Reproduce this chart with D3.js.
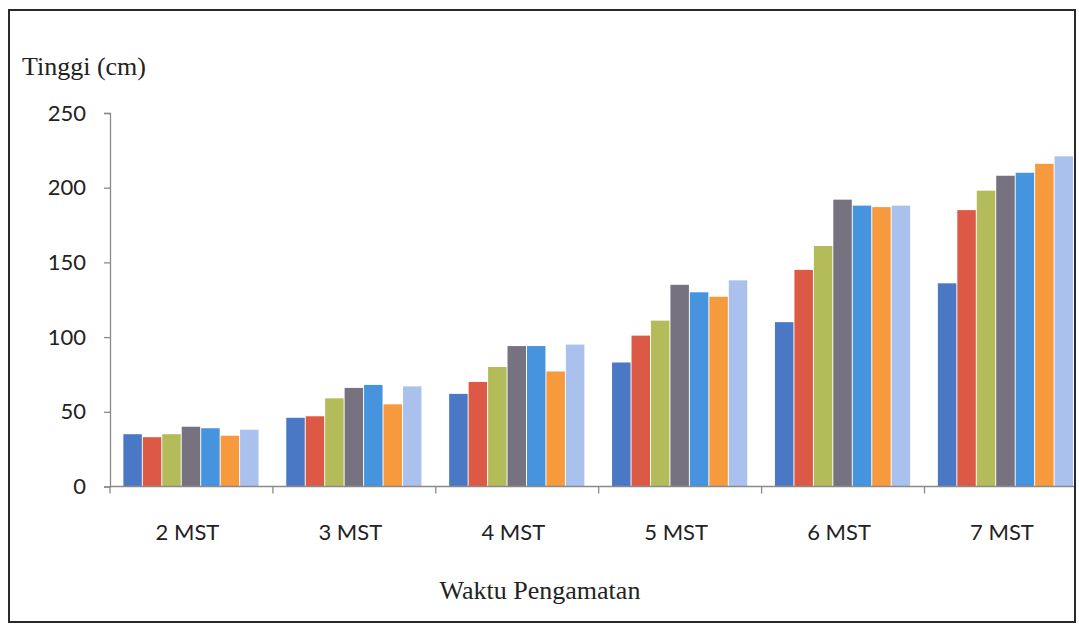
<!DOCTYPE html>
<html>
<head>
<meta charset="utf-8">
<script src="https://cdn.jsdelivr.net/npm/d3@7"></script>
<style>
  html, body { margin: 0; padding: 0; background: #fff; }
  svg { display: block; }
</style>
</head>
<body>
<svg id="chart" width="1079" height="625"></svg>
<script>
// Plant height (cm) per observation week, seven treatments each
const categories = ["2 MST", "3 MST", "4 MST", "5 MST", "6 MST", "7 MST"];
const seriesNames = ["P1", "P2", "P3", "P4", "P5", "P6", "P7"];
const s1 = [35, 46, 62, 83, 110, 136];
const s2 = [33, 47, 70, 101, 145, 185];
const s3 = [35, 59, 80, 111, 161, 198];
const s4 = [40, 66, 94, 135, 192, 208];
const s5 = [39, 68, 94, 130, 188, 210];
const s6 = [34, 55, 77, 127, 187, 216];
const s7 = [38, 67, 95, 138, 188, 221];
const seriesValues = [s1, s2, s3, s4, s5, s6, s7];
const colors = ["#4b78c5", "#dc5a45", "#b3bc58", "#77727f", "#4794de", "#f79a3e", "#a9c1ec"];
const yTicks = [0, 50, 100, 150, 200, 250];

const svg = d3.select("#chart");

// frame around the whole figure
const frame = { x: 9, y: 10, w: 1066, h: 612 };
svg.append("clipPath").attr("id", "frameClip")
  .append("rect").attr("x", frame.x).attr("y", frame.y)
  .attr("width", frame.w).attr("height", frame.h);

const plot = svg.append("g").attr("clip-path", "url(#frameClip)");

const x0 = d3.scaleBand().domain(categories).range([110, 110 + 6 * 162.9]).padding(0);
const bw = x0.bandwidth();
const x1 = d3.scaleBand().domain(seriesNames).range([bw * 0.082, bw * 0.912]).paddingInner(0.05);
const y = d3.scaleLinear().domain([0, 250]).range([486.5, 113]);

// bars
const groups = plot.selectAll("g.grp").data(categories).enter().append("g")
  .attr("class", "grp")
  .attr("transform", d => `translate(${x0(d)},0)`);

groups.selectAll("rect").data((c, ci) => seriesNames.map((s, si) => ({ s, si, v: seriesValues[si][ci] })))
  .enter().append("rect")
  .attr("x", d => x1(d.s))
  .attr("width", x1.bandwidth())
  .attr("y", d => y(d.v))
  .attr("height", d => y(0) - y(d.v))
  .attr("fill", d => colors[d.si]);

// y axis
const yAxis = plot.append("g").attr("transform", "translate(110,0)")
  .call(d3.axisLeft(y).tickValues(yTicks).tickSize(6).tickPadding(18));
yAxis.select(".domain").attr("stroke", "#8a8a8a").attr("stroke-width", 1.3);
yAxis.selectAll(".tick line").attr("stroke", "#8a8a8a").attr("stroke-width", 1.3);
yAxis.selectAll(".tick text")
  .attr("font-family", "Lato, 'Open Sans', sans-serif")
  .attr("font-size", 22).attr("fill", "#222");

// x axis: baseline with tick marks at category boundaries
const xAxis = plot.append("g").attr("transform", `translate(0,${y(0)})`);
xAxis.append("line").attr("x1", 110).attr("x2", 1090).attr("y1", 0).attr("y2", 0)
  .attr("stroke", "#8a8a8a").attr("stroke-width", 1.3);
const boundaries = categories.map(c => x0(c));
xAxis.selectAll("line.tk").data(boundaries).enter().append("line")
  .attr("class", "tk")
  .attr("x1", d => d).attr("x2", d => d).attr("y1", 0).attr("y2", 7)
  .attr("stroke", "#8a8a8a").attr("stroke-width", 1.3);
xAxis.selectAll("text").data(categories).enter().append("text")
  .attr("x", d => x0(d) + bw / 2 - 4)
  .attr("y", 53)
  .attr("text-anchor", "middle")
  .attr("font-family", "Lato, 'Open Sans', sans-serif")
  .attr("font-size", 22).attr("fill", "#222")
  .text(d => d);

// axis titles
svg.append("text").attr("x", 22).attr("y", 75)
  .attr("font-family", "'Liberation Serif', 'Times New Roman', serif")
  .attr("font-size", 26).attr("fill", "#222")
  .text("Tinggi (cm)");
svg.append("text").attr("x", 540).attr("y", 599)
  .attr("text-anchor", "middle")
  .attr("font-family", "'Liberation Serif', 'Times New Roman', serif")
  .attr("font-size", 26).attr("fill", "#222")
  .text("Waktu Pengamatan");

// outer frame
svg.append("rect").attr("x", frame.x).attr("y", frame.y)
  .attr("width", frame.w).attr("height", frame.h)
  .attr("fill", "none").attr("stroke", "#2a2a2a").attr("stroke-width", 2);
</script>
</body>
</html>
